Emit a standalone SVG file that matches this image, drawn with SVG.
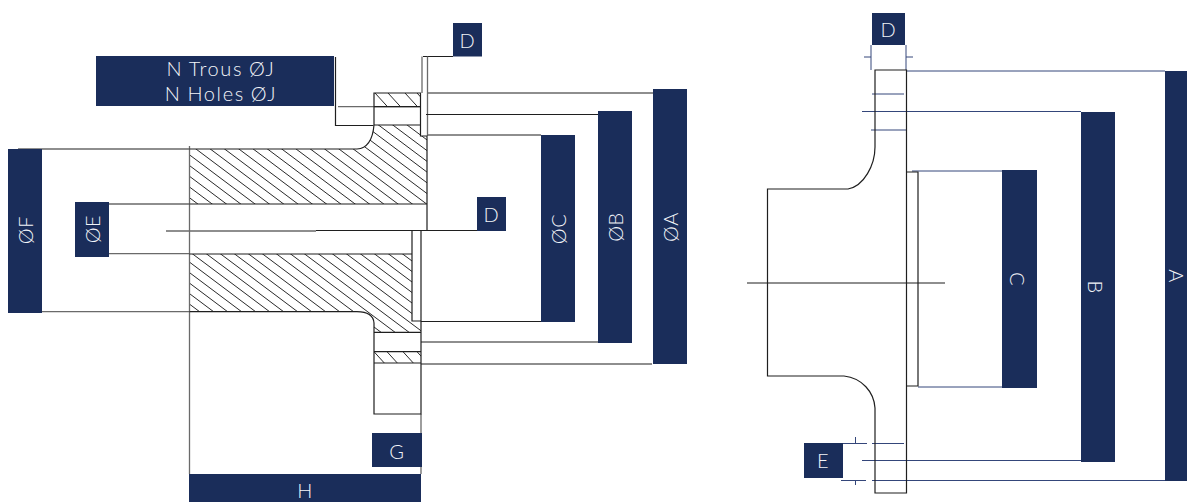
<svg xmlns="http://www.w3.org/2000/svg" width="1187" height="502" viewBox="0 0 1187 502">
<style>
.box{fill:#1a2d5a}
.t{fill:#f2f4f8;font-family:Lato,"Liberation Sans",sans-serif;font-size:20px;font-weight:300;letter-spacing:.6px;text-anchor:middle;dominant-baseline:central}
.w{letter-spacing:1.6px;word-spacing:-1px}
.k{fill:none;stroke:#1f1f1f;stroke-width:1.2}
.g{fill:none;stroke:#6a6a6a;stroke-width:1.3}
.b{fill:none;stroke:#34467a;stroke-width:1}
.h{fill:none;stroke:#2a2a2a;stroke-width:1}
</style>
<defs>
<clipPath id="cu"><path d="M189.500 149H357Q372 148 374 125H420V136H427V204H189.500Z"/></clipPath>
<clipPath id="cl"><path d="M189.500 254H412V321H421V332H374V323Q373 311 355 311.700H189.500Z"/></clipPath>
<clipPath id="cf"><path d="M374 93H420.500V106.700H374ZM374 351.700H421V363H374Z"/></clipPath>
</defs>
<g id="hatching">
<g clip-path="url(#cu)"><path class="h" d="M70.200 119l140 105M84.500 119l140 105M98.800 119l140 105M113.100 119l140 105M127.400 119l140 105M141.700 119l140 105M156 119l140 105M170.300 119l140 105M184.600 119l140 105M198.900 119l140 105M213.200 119l140 105M227.500 119l140 105M241.800 119l140 105M256.100 119l140 105M270.400 119l140 105M284.700 119l140 105M299 119l140 105M313.300 119l140 105M327.600 119l140 105M341.900 119l140 105M356.200 119l140 105M370.500 119l140 105M384.800 119l140 105M399.100 119l140 105M413.400 119l140 105"/></g>
<g clip-path="url(#cl)"><path class="h" d="M82 234l160 120M96 234l160 120M110 234l160 120M124 234l160 120M138 234l160 120M152 234l160 120M166 234l160 120M180 234l160 120M194 234l160 120M208 234l160 120M222 234l160 120M236 234l160 120M250 234l160 120M264 234l160 120M278 234l160 120M292 234l160 120M306 234l160 120M320 234l160 120M334 234l160 120M348 234l160 120M362 234l160 120M376 234l160 120M390 234l160 120"/></g>
<g clip-path="url(#cf)"><path class="h" d="M375 93l12.500 13.700M388 93l12.500 13.700M405 93l12.500 13.700M417 93l12.500 13.700M374 351.700l10.300 11.300M387 351.700l10.300 11.300M403 351.700l10.300 11.300M417 351.700l10.300 11.300"/></g>
</g>
<g id="connectors">
<path class="k" d="M423 56.500H453M335.500 57V125.500H373.500"/>
<path class="g" d="M338 106.700H420M422 56.500V93M427.500 56.500V136"/>
<path class="g" d="M427 93H653M427 135H541M421 342H598M421 364H652M421 414V474"/>
<path class="k" d="M426 114.500H598M421 321.500H541M316 230.500H478"/>
<path class="g" d="M166 231H316M18 149H189M189.500 146V474M20 311.700H189M84 253.700H190M84 204H190"/>
<path class="b" d="M906 71H1165M862 111.500H1081M872 94H904M871 130H906M912 171H1002M918 387H1002M872 443.500H904M843 443.500H867M862 460.500H1081M841 480.500H866M872 480.500H1165M855.500 437V443M855.500 480V485M871 45V70M906 45V70M864 57H871M906 57H913"/>
<path class="k" d="M747 283H945"/>
</g>
<g id="left-flange">
<path class="k" d="M189.500 149H357Q372 148 374 125V93H420.500V136H427V230M189.500 204H427M189.500 254H412M412 230V321H421M421 230V414H374V323Q373 311 355 311.700H189.500M374 106.700H420M374 125H420M374 332.300H421M374 351.700H421M374 363H421"/>
</g>
<g id="right-flange">
<path class="k" d="M875 70H906.500V493H875V408C874 392 862 378 844 376H767.500V189H848C864 186 875 165 875 147Z"/>
<path class="k" d="M906.500 172H918V386H906.500"/>
</g>
<g id="n-holes"><rect class="box" x="96" y="56" width="238" height="50"/><text class="t w" x="221" y="68">N Trous ØJ</text><text class="t w" x="221" y="93">N Holes ØJ</text></g>
<g id="d-top"><rect class="box" x="453" y="23" width="29" height="33.500"/><text class="t" x="467.500" y="40">D</text></g>
<g id="d-mid"><rect class="box" x="477" y="197" width="29" height="34"/><text class="t" x="491.500" y="214">D</text></g>
<g id="oF"><rect class="box" x="8" y="149" width="34" height="164"/><text class="t" transform="translate(25 230) rotate(-90)">ØF</text></g>
<g id="oE"><rect class="box" x="75" y="202" width="34" height="55"/><text class="t" transform="translate(92 229) rotate(-90)">ØE</text></g>
<g id="oC"><rect class="box" x="541" y="135" width="34" height="187"/><text class="t" transform="translate(558 229) rotate(-90)">ØC</text></g>
<g id="oB"><rect class="box" x="598" y="111" width="34" height="232"/><text class="t" transform="translate(615 227) rotate(-90)">ØB</text></g>
<g id="oA"><rect class="box" x="653" y="89" width="34" height="275"/><text class="t" transform="translate(670 227) rotate(-90)">ØA</text></g>
<g id="g"><rect class="box" x="372" y="433" width="50" height="34"/><text class="t" x="397" y="451">G</text></g>
<g id="h"><rect class="box" x="189" y="474" width="232" height="28"/><text class="t" x="305" y="490">H</text></g>
<g id="d-right"><rect class="box" x="872" y="13" width="33" height="32"/><text class="t" x="888.500" y="29">D</text></g>
<g id="e"><rect class="box" x="804" y="443" width="39" height="35"/><text class="t" x="823" y="460">E</text></g>
<g id="c"><rect class="box" x="1002" y="170" width="35" height="218"/><text class="t" transform="translate(1018 279) rotate(90)">C</text></g>
<g id="b"><rect class="box" x="1081" y="112" width="34" height="350"/><text class="t" transform="translate(1096 287) rotate(90)">B</text></g>
<g id="a"><rect class="box" x="1165" y="71" width="22" height="410"/><text class="t" transform="translate(1177 276) rotate(90)">A</text></g>
</svg>
